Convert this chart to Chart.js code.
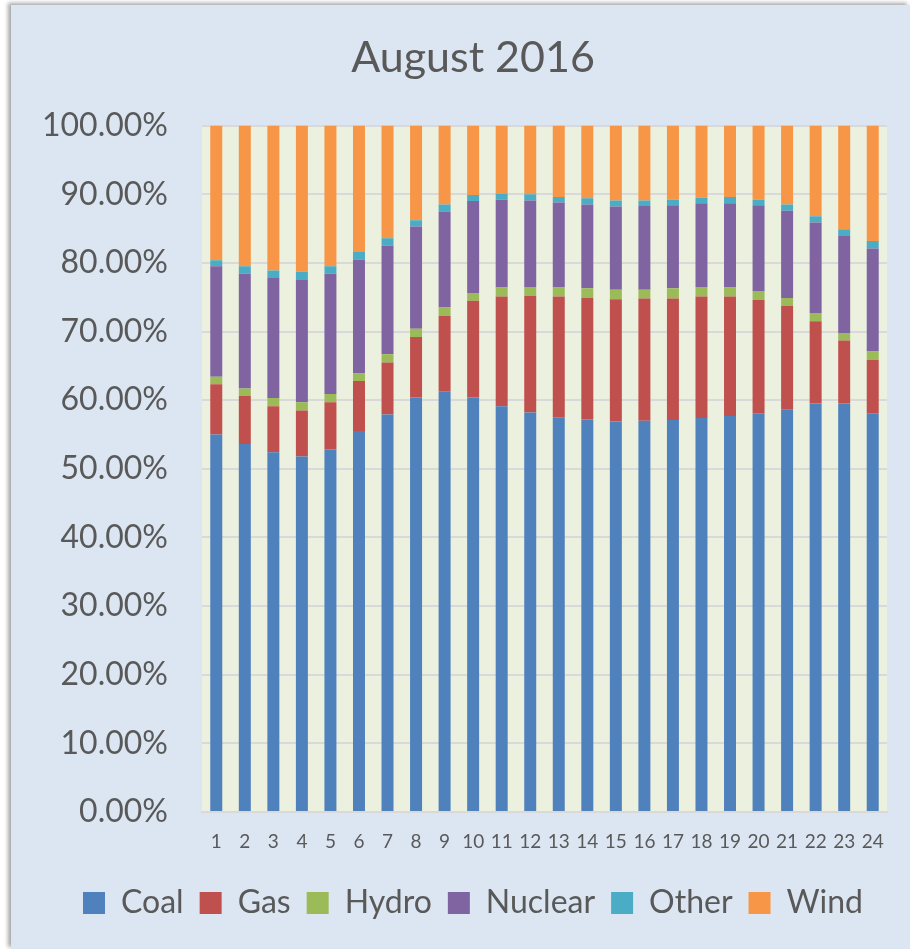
<!DOCTYPE html>
<html>
<head>
<meta charset="utf-8">
<script src="https://cdn.jsdelivr.net/npm/chart.js@4.4.0/dist/chart.umd.min.js"></script>
<style>
  html, body { margin: 0; padding: 0; background: #ffffff; }
  #card {
    position: absolute; left: 11px; top: 5px; width: 899px; height: 944px;
    background: #dce6f2;
    box-shadow: -3px -2px 4px rgba(0,0,0,0.35);
  }
</style>
</head>
<body>
<div id="card"><canvas id="mix"></canvas></div>
<script>
// hours of the day
const hours = ['1','2','3','4','5','6','7','8','9','10','11','12','13','14','15','16','17','18','19','20','21','22','23','24'];

// share of generation, in percent
const coal    = [55.0,53.6,52.4,51.8,52.8,55.5,57.9,60.4,61.3,60.4,59.1,58.2,57.5,57.2,56.9,57.0,57.1,57.4,57.7,58.1,58.6,59.5,59.5,58.1];
const gas     = [7.3,7.0,6.7,6.7,6.9,7.3,7.6,8.8,11.0,14.1,16.0,17.0,17.6,17.7,17.8,17.8,17.7,17.7,17.4,16.5,15.1,12.0,9.2,7.8];
const hydro   = [1.1,1.1,1.2,1.2,1.2,1.1,1.2,1.2,1.2,1.1,1.3,1.3,1.3,1.4,1.4,1.3,1.5,1.4,1.3,1.3,1.2,1.2,1.1,1.2];
const nuclear = [16.1,16.7,17.5,17.8,17.5,16.6,15.8,14.9,14.0,13.4,12.8,12.6,12.4,12.2,12.1,12.2,12.1,12.2,12.3,12.5,12.7,13.2,14.1,15.0];
const other   = [0.9,1.1,1.1,1.2,1.1,1.1,1.1,0.9,1.0,0.9,0.9,0.9,0.8,0.9,0.9,0.8,0.8,0.8,0.9,0.8,0.9,0.9,1.0,1.1];
const wind    = [19.6,20.5,21.1,21.3,20.5,18.4,16.4,13.8,11.5,10.1,9.9,10.0,10.4,10.6,10.9,10.9,10.8,10.5,10.4,10.8,11.5,13.2,15.1,16.8];

const FONT = "Lato, 'Open Sans', sans-serif";
const TEXT = '#595959';

const plotBg = {
  id: 'plotBg',
  beforeDraw(chart) {
    const { ctx, chartArea: a } = chart;
    ctx.save();
    ctx.fillStyle = '#ebf1de';
    ctx.fillRect(a.left, a.top, a.right - a.left, a.bottom - a.top);
    ctx.restore();
  }
};

const ds = (label, data, color) => ({
  label, data, backgroundColor: color, borderColor: color, borderWidth: 0,
  barPercentage: 0.42, categoryPercentage: 1.0
});

new Chart(document.getElementById('mix'), {
  type: 'bar',
  data: {
    labels: hours,
    datasets: [
      ds('Coal', coal, '#4f81bd'),
      ds('Gas', gas, '#c0504d'),
      ds('Hydro', hydro, '#9bbb59'),
      ds('Nuclear', nuclear, '#8064a2'),
      ds('Other', other, '#4bacc6'),
      ds('Wind', wind, '#f79646'),
    ]
  },
  options: {
    responsive: true,
    maintainAspectRatio: false,
    animation: false,
    layout: { padding: { left: 25, right: 0, top: 0, bottom: 20 } },
    scales: {
      x: {
        stacked: true,
        grid: { display: false, drawTicks: false },
        border: { color: '#d9d9d9', width: 2 },
        ticks: { color: TEXT, font: { family: FONT, size: 19 }, padding: 18, maxRotation: 0, autoSkip: false },
        afterFit(s) { s.height = 59; }
      },
      y: {
        stacked: true,
        min: 0, max: 100,
        grid: { color: '#d9d9d9', lineWidth: 2, drawTicks: false },
        border: { display: false },
        ticks: {
          stepSize: 10, padding: 34, color: TEXT,
          font: { family: FONT, size: 32 },
          callback: v => v.toFixed(2) + '%'
        },
        afterFit(s) { s.width = 166; }
      },
      // empty right-hand gutter so title and legend stay centred on the card
      gutter: {
        position: 'right',
        grid: { display: false, drawTicks: false },
        border: { display: false },
        ticks: { display: false },
        afterFit(s) { s.width = 23; }
      }
    },
    plugins: {
      title: {
        display: true, text: 'August 2016', color: TEXT,
        font: { family: FONT, size: 43, weight: 'normal' },
        padding: { top: 27, bottom: 42 }
      },
      legend: {
        position: 'bottom',
        labels: {
          color: TEXT, font: { family: FONT, size: 32 },
          boxWidth: 22, boxHeight: 22, padding: 16
        }
      },
      tooltip: { enabled: false }
    }
  },
  plugins: [plotBg]
});
</script>
</body>
</html>
